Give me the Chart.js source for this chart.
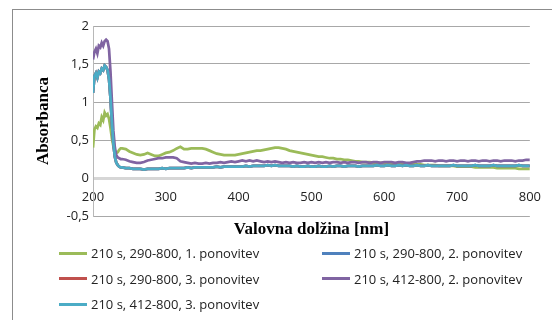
<!DOCTYPE html>
<html><head><meta charset="utf-8">
<script src="https://cdn.jsdelivr.net/npm/chart.js@4.4.1/dist/chart.umd.min.js"></script>
<style>
html,body{margin:0;padding:0;background:#fff;}
#wrap{position:relative;width:552px;height:320px;overflow:hidden;background:#fff;}
#frame{position:absolute;left:12px;top:9px;width:700px;height:500px;border-left:1px solid #8c8c8c;border-top:1px solid #8c8c8c;}
canvas{position:absolute;left:0;top:0;}
.lg{position:absolute;height:18px;display:flex;align-items:center;font-family:'Open Sans';font-size:13px;color:#222;white-space:nowrap;}
.lg .sw{display:inline-block;width:28px;height:3px;margin-right:4px;}
</style></head>
<body><div id="wrap"><div id="frame"></div><canvas id="c" width="552" height="320"></canvas><div id="legend"></div></div>
<script>
const wavelength = [
200,202,204,206,208,210,212,214,216,218,220,222,224,226,228,230,232,234,236,238,
240,245,250,255,260,265,270,275,280,285,
290,295,300,305,310,315,320,325,330,335,
340,345,350,355,360,365,370,375,380,385,
390,395,400,405,410,415,420,425,430,435,
440,445,450,455,460,465,470,475,480,485,
490,495,500,505,510,515,520,525,530,535,
540,545,550,555,560,565,570,575,580,585,
590,595,600,605,610,615,620,625,630,635,
640,645,650,655,660,665,670,675,680,685,
690,695,700,705,710,715,720,725,730,735,
740,745,750,755,760,765,770,775,780,785,
790,795,800];

const series290_1 = [
0.40,0.64,0.68,0.66,0.72,0.70,0.80,0.76,0.86,0.82,0.84,0.78,0.66,0.52,0.42,0.36,0.33,0.34,0.37,0.39,
0.39,0.38,0.35,0.33,0.31,0.30,0.31,0.33,0.31,0.29,
0.29,0.31,0.33,0.34,0.36,0.39,0.41,0.38,0.38,0.39,
0.39,0.39,0.39,0.38,0.36,0.34,0.32,0.31,0.30,0.30,
0.30,0.30,0.31,0.32,0.33,0.34,0.35,0.36,0.36,0.37,
0.38,0.39,0.40,0.40,0.39,0.38,0.36,0.35,0.34,0.33,
0.32,0.31,0.30,0.29,0.28,0.28,0.27,0.26,0.26,0.25,
0.25,0.24,0.24,0.23,0.22,0.22,0.21,0.21,0.21,0.20,
0.20,0.20,0.20,0.19,0.19,0.19,0.19,0.19,0.18,0.18,
0.18,0.18,0.18,0.17,0.17,0.17,0.17,0.16,0.16,0.16,
0.16,0.16,0.15,0.15,0.15,0.15,0.15,0.14,0.14,0.14,
0.14,0.14,0.14,0.13,0.13,0.13,0.13,0.13,0.13,0.12,
0.12,0.12,0.12];

const series412_2 = [
1.56,1.66,1.70,1.64,1.74,1.72,1.78,1.74,1.80,1.82,1.80,1.70,1.40,1.00,0.62,0.40,0.30,0.27,0.26,0.25,
0.25,0.24,0.22,0.21,0.20,0.20,0.21,0.23,0.24,0.25,
0.26,0.26,0.27,0.27,0.27,0.26,0.22,0.21,0.20,0.19,
0.20,0.19,0.19,0.20,0.19,0.20,0.20,0.21,0.20,0.21,
0.22,0.21,0.22,0.23,0.22,0.23,0.22,0.23,0.22,0.21,
0.22,0.21,0.22,0.21,0.20,0.21,0.20,0.21,0.20,0.20,
0.21,0.20,0.21,0.20,0.21,0.20,0.21,0.20,0.21,0.21,
0.20,0.21,0.20,0.21,0.21,0.20,0.21,0.21,0.20,0.21,
0.21,0.20,0.21,0.21,0.21,0.20,0.21,0.21,0.20,0.20,
0.21,0.22,0.22,0.23,0.23,0.23,0.22,0.23,0.23,0.22,
0.23,0.23,0.22,0.23,0.23,0.22,0.23,0.23,0.22,0.23,
0.23,0.22,0.23,0.23,0.22,0.23,0.23,0.23,0.22,0.23,
0.23,0.24,0.24];

const series412_3 = [
1.12,1.34,1.38,1.32,1.40,1.38,1.44,1.42,1.48,1.46,1.42,1.30,1.05,0.72,0.45,0.28,0.20,0.17,0.15,0.14,
0.14,0.13,0.13,0.12,0.12,0.12,0.11,0.12,0.12,0.12,
0.12,0.13,0.12,0.13,0.13,0.13,0.13,0.13,0.14,0.13,
0.14,0.14,0.14,0.14,0.14,0.14,0.15,0.14,0.15,0.15,
0.15,0.15,0.15,0.15,0.16,0.15,0.16,0.16,0.16,0.16,
0.17,0.16,0.17,0.16,0.16,0.16,0.16,0.15,0.16,0.15,
0.15,0.16,0.15,0.15,0.16,0.15,0.15,0.16,0.15,0.16,
0.16,0.15,0.16,0.16,0.16,0.15,0.16,0.16,0.16,0.16,
0.17,0.16,0.16,0.17,0.16,0.16,0.17,0.16,0.17,0.16,
0.16,0.17,0.16,0.16,0.17,0.16,0.16,0.16,0.16,0.16,
0.16,0.17,0.16,0.16,0.16,0.16,0.16,0.17,0.16,0.16,
0.16,0.16,0.17,0.16,0.16,0.16,0.16,0.16,0.16,0.17,
0.16,0.16,0.16];

// These two runs are not visible in the picture: they lie under the 412-800, 3. trace.
const series290_2 = series412_3.slice();
const series290_3 = series412_3.slice();

const seriesLabels = [
  '210 s, 290-800, 1. ponovitev',
  '210 s, 290-800, 2. ponovitev',
  '210 s, 290-800, 3. ponovitev',
  '210 s, 412-800, 2. ponovitev',
  '210 s, 412-800, 3. ponovitev'
];
const xTicks = [200, 300, 400, 500, 600, 700, 800];
const yTicks = [-0.5, 0, 0.5, 1, 1.5, 2];
const xTitle = 'Valovna dolžina [nm]';
const yTitle = 'Absorbanca';

const colors = ['#9BBB59', '#4F81BD', '#C0504D', '#8064A2', '#4BACC6'];
const allSeries = [series290_1, series290_2, series290_3, series412_2, series412_3];

const datasets = allSeries.map((vals, i) => ({
  label: seriesLabels[i],
  data: wavelength.map((w, j) => ({x: w, y: vals[j]})),
  borderColor: colors[i],
  backgroundColor: colors[i],
  borderWidth: 2.75,
  pointRadius: 0,
  tension: 0,
  fill: false,
  order: 5 - i
}));

const tickFont = {family: 'Open Sans', size: 13};
const chart = new Chart(document.getElementById('c'), {
  type: 'line',
  data: {datasets},
  options: {
    responsive: false,
    animation: false,
    devicePixelRatio: 1,
    layout: {padding: {left: 33, top: 26, right: 18, bottom: 74}},
    plugins: {legend: {display: false}, tooltip: {enabled: false}},
    scales: {
      x: {
        type: 'linear', position: 'bottom', min: 200, max: 800,
        afterBuildTicks: s => { s.ticks = xTicks.map(v => ({value: v})); },
        afterFit: s => { s.height = 30; },
        grid: {display: false},
        border: {display: false},
        ticks: {font: tickFont, color: '#222', padding: 11, mirror: true, maxRotation: 0, autoSkip: false},
        title: {display: true, text: xTitle, color: '#000',
          font: {family: 'Liberation Serif', size: 17, weight: 'bold'}, padding: {top: 0, bottom: 6}}
      },
      y: {
        type: 'linear', min: -0.5, max: 2,
        afterBuildTicks: s => { s.ticks = yTicks.map(v => ({value: v})); },
        afterFit: s => { s.width = 60; },
        grid: {
          drawTicks: false,
          color: c => c.tick && c.tick.value === 0 ? '#d6d6d6' : '#a8a8a8',
          lineWidth: c => c.tick && c.tick.value === 0 ? 3 : 1
        },
        border: {display: true, color: '#b8b8b8', width: 1},
        ticks: {font: tickFont, color: '#222', padding: 4,
          callback: v => String(v).replace('.', ',')},
        title: {display: true, text: yTitle, color: '#000',
          font: {family: 'Liberation Serif', size: 17, weight: 'bold'}, padding: {top: 0, bottom: 0}}
      }
    }
  }
});

// HTML legend in two columns, built from the chart's datasets
const colX = [59, 322];
const rowY = [253, 278.5, 304];
const legend = document.getElementById('legend');
chart.data.datasets.forEach((ds, i) => {
  const it = document.createElement('div');
  it.className = 'lg';
  it.style.left = colX[i % 2] + 'px';
  it.style.top = (rowY[Math.floor(i / 2)] - 9) + 'px';
  const sw = document.createElement('span');
  sw.className = 'sw';
  sw.style.background = ds.borderColor;
  const tx = document.createElement('span');
  tx.textContent = ds.label;
  it.appendChild(sw); it.appendChild(tx);
  legend.appendChild(it);
});
</script>
</body></html>
